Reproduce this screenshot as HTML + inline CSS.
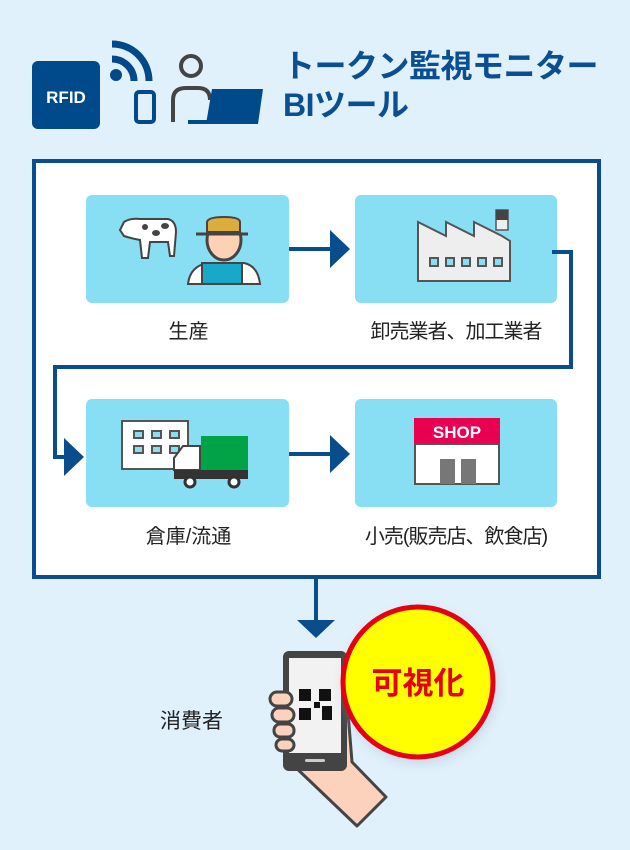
<!DOCTYPE html>
<html><head><meta charset="utf-8">
<style>
html,body{margin:0;padding:0;}
body{width:630px;height:850px;background:#e1f1fc;position:relative;overflow:hidden;font-family:"Liberation Sans","Noto Sans CJK JP",sans-serif;}
.t{position:absolute;white-space:nowrap;}
</style></head><body>
<svg width="630" height="850" style="position:absolute;left:0;top:0">
<defs><filter id="sh" x="-30%" y="-30%" width="160%" height="160%"><feGaussianBlur stdDeviation="6"/></filter></defs>
<!-- header icons -->
<rect x="32" y="61" width="68" height="68" rx="6" fill="#004a8c"/>
<text x="66" y="103" font-size="17" font-weight="bold" fill="#fff" text-anchor="middle" font-family="Liberation Sans">RFID</text>
<circle cx="116" cy="75" r="6" fill="#004a8c"/>
<path d="M112 59 A22 22 0 0 1 134 81" stroke="#004a8c" stroke-width="7" fill="none"/>
<path d="M112 44 A37 37 0 0 1 149 81" stroke="#004a8c" stroke-width="7" fill="none"/>
<rect x="136" y="92" width="18" height="30" rx="3" fill="none" stroke="#004a8c" stroke-width="4"/>
<circle cx="191" cy="66" r="10" fill="none" stroke="#444" stroke-width="4"/>
<path d="M173 122 V100 Q173 88 186 88 H198 Q210 88 210 100" fill="none" stroke="#444" stroke-width="4"/>
<rect x="188" y="120" width="70" height="4" fill="#004a8c"/>
<polygon points="212,89 263,89 258,124 206,124" fill="#004a8c"/>
<!-- frame -->
<rect x="34" y="161" width="565" height="416" fill="#fff" stroke="#0a4d8d" stroke-width="4"/>
<!-- boxes -->
<rect x="86" y="195" width="203" height="108" rx="6" fill="#88def2"/>
<rect x="355" y="195" width="202" height="108" rx="6" fill="#88def2"/>
<rect x="86" y="399" width="203" height="108" rx="6" fill="#88def2"/>
<rect x="355" y="399" width="202" height="108" rx="6" fill="#88def2"/>
<!-- arrows -->
<g stroke="#0a4d8d" stroke-width="4" fill="none">
<line x1="289" y1="249" x2="334" y2="249"/>
<line x1="289" y1="454" x2="334" y2="454"/>
<polyline points="552,252 571,252 571,367 55,367 55,457 70,457"/>
<line x1="316" y1="577" x2="316" y2="624"/>
</g>
<g fill="#0a4d8d">
<polygon points="330,230 350,249 330,268"/>
<polygon points="330,435 350,454 330,473"/>
<polygon points="64,438 84,457 64,476"/>
<polygon points="297,620 335,620 316,638"/>
</g>
<!-- cow -->
<path d="M120 230 L124 222 Q130 218 140 219 H168 Q176 221 176 232 L174 256 H170 L168 242 H150 L148 258 H142 L140 240 Q130 238 124 236Z" fill="#fff" stroke="#444" stroke-width="2"/>
<ellipse cx="145" cy="227" rx="3" ry="3" fill="#444"/><ellipse cx="156" cy="233" rx="4" ry="3" fill="#444"/><ellipse cx="165" cy="226" rx="4" ry="3" fill="#444"/>
<!-- farmer -->
<path d="M188 284 Q190 266 208 263 H244 Q258 266 260 284Z" fill="#fff" stroke="#444" stroke-width="2"/>
<rect x="202" y="263" width="40" height="21" fill="#1aa8c8" stroke="#444" stroke-width="2"/>
<ellipse cx="224" cy="240" rx="17" ry="20" fill="#fdd1b4" stroke="#444" stroke-width="3"/>
<path d="M207 232 V222 Q208 217 224 217 Q240 217 240 222 V232Z" fill="#dcac3c" stroke="#444" stroke-width="2"/>
<line x1="196" y1="234" x2="248" y2="234" stroke="#444" stroke-width="3"/>
<!-- factory -->
<path d="M418 281 V222 L446 236 V222 L474 236 V222 L502 236 L510 241 V281Z" fill="#eee" stroke="#555" stroke-width="2"/>
<rect x="496" y="210" width="12" height="20" fill="#eee" stroke="#555" stroke-width="1.5"/>
<rect x="496" y="210" width="12" height="10" fill="#444"/>
<g fill="#88def2" stroke="#555" stroke-width="2"><rect x="430" y="258" width="8" height="8"/><rect x="446" y="258" width="8" height="8"/><rect x="462" y="258" width="8" height="8"/><rect x="478" y="258" width="8" height="8"/><rect x="494" y="258" width="8" height="8"/></g>
<!-- warehouse + truck -->
<rect x="122" y="421" width="66" height="48" fill="#fff" stroke="#555" stroke-width="2"/>
<g fill="#88def2" stroke="#555" stroke-width="2"><rect x="134" y="431" width="9" height="7"/><rect x="152" y="431" width="9" height="7"/><rect x="170" y="431" width="9" height="7"/><rect x="134" y="446" width="9" height="7"/><rect x="152" y="446" width="9" height="7"/><rect x="170" y="446" width="9" height="7"/></g>
<rect x="201" y="436" width="47" height="36" fill="#00a346"/>
<path d="M174 470 V458 L183 446 H200 V470Z" fill="#fff" stroke="#444" stroke-width="2"/>
<rect x="174" y="470" width="74" height="9" fill="#333"/>
<circle cx="190" cy="482" r="5" fill="#fff" stroke="#333" stroke-width="3"/><circle cx="234" cy="482" r="5" fill="#fff" stroke="#333" stroke-width="3"/>
<!-- shop -->
<rect x="414" y="418" width="86" height="26" fill="#ea0051"/>
<text x="457" y="438" font-size="17" font-weight="bold" fill="#fff" text-anchor="middle" font-family="Liberation Sans">SHOP</text>
<rect x="415" y="444" width="84" height="40" fill="#fff" stroke="#555" stroke-width="2"/>
<rect x="440" y="459" width="15" height="25" fill="#777"/><rect x="461" y="459" width="15" height="25" fill="#777"/>
<!-- hand & phone -->
<path d="M290 762 L357 826 L386 797 L352 762 L347 700 L330 700 Z" fill="#fcd2bd" stroke="#444" stroke-width="3" stroke-linejoin="round"/>
<rect x="283" y="651" width="64" height="120" rx="6" fill="#444"/>
<rect x="289" y="658" width="52" height="95" fill="#f2f2f2"/>
<rect x="305" y="759" width="20" height="3" rx="1.5" fill="#ccc"/>
<g fill="#111"><rect x="299" y="689" width="12" height="12"/><rect x="319" y="689" width="12" height="12"/><rect x="299" y="708" width="12" height="12"/><rect x="314" y="702" width="6" height="6"/><rect x="322" y="706" width="10" height="14"/></g>
<g fill="#fcd2bd" stroke="#444" stroke-width="3"><rect x="270" y="692" width="22" height="14" rx="7"/><rect x="272" y="708" width="22" height="14" rx="7"/><rect x="274" y="724" width="20" height="13" rx="6"/><rect x="276" y="739" width="18" height="12" rx="6"/></g>
<circle cx="420" cy="687" r="77" fill="#9ab" opacity="0.35" filter="url(#sh)"/>
<circle cx="418" cy="682" r="75" fill="#ffff00" stroke="#e60012" stroke-width="5"/>
<text x="418" y="694" font-size="31" font-weight="bold" fill="#e60012" text-anchor="middle" font-family="Liberation Sans,Noto Sans CJK JP,sans-serif">可視化</text>
</svg>
<div class="t" style="left:283px;top:47px;font-size:32px;font-weight:bold;color:#0a4f92;line-height:39px;letter-spacing:-0.5px;">トークン監視モニター<br>BIツール</div>
<div class="t" style="left:87px;width:203px;text-align:center;top:315px;font-size:20px;color:#222;">生産</div>
<div class="t" style="left:355px;width:202px;text-align:center;top:315px;font-size:20px;color:#222;letter-spacing:-1px;">卸売業者、加工業者</div>
<div class="t" style="left:87px;width:203px;text-align:center;top:520px;font-size:20px;color:#222;">倉庫/流通</div>
<div class="t" style="left:340px;width:232px;text-align:center;top:520px;font-size:20px;color:#222;letter-spacing:-1px;">小売(販売店、飲食店)</div>
<div class="t" style="left:160px;top:705px;font-size:21px;color:#222;">消費者</div>
</body></html>
